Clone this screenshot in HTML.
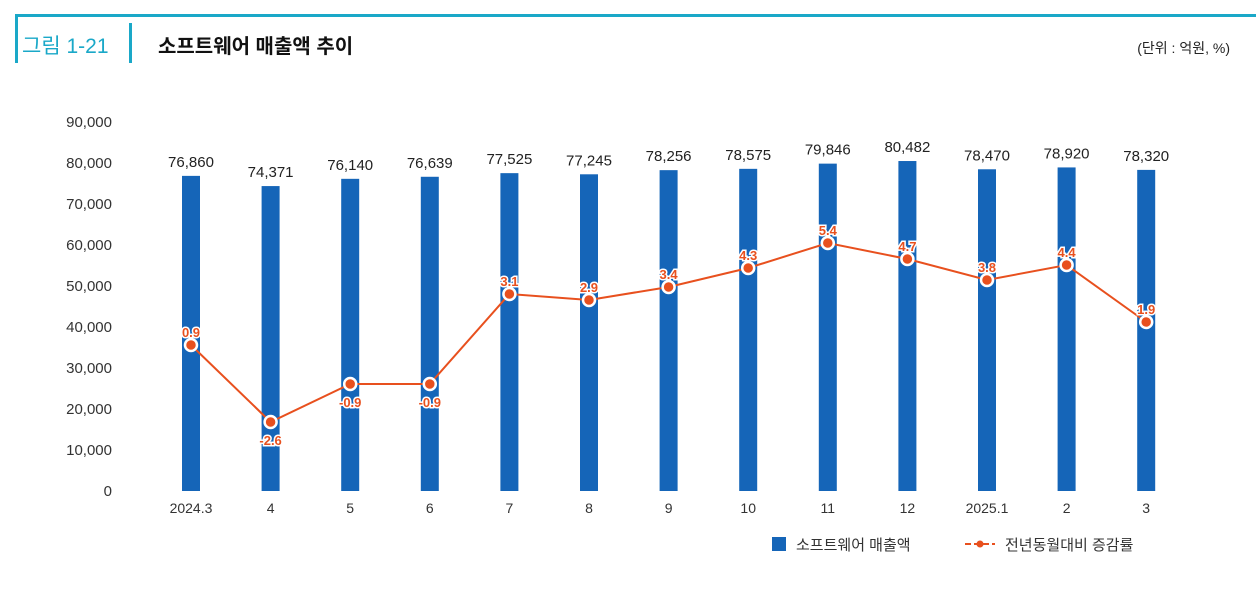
<!DOCTYPE html>
<html><head><meta charset="utf-8"><style>
body{margin:0;background:#fff;width:1256px;height:589px;overflow:hidden;font-family:"Liberation Sans","Noto Sans CJK KR",sans-serif;}
</style></head><body>
<svg width="1256" height="589" xmlns="http://www.w3.org/2000/svg" font-family="Liberation Sans, Noto Sans CJK KR, sans-serif">
<rect x="15" y="14" width="1241" height="3" fill="#1aa8c8"/>
<rect x="15" y="14" width="3" height="49" fill="#1aa8c8"/>
<rect x="129" y="23" width="3" height="40" fill="#1aa8c8"/>
<text x="22" y="53" font-size="21" fill="#1aa8c8">그림 1-21</text>
<text x="158" y="53" font-size="20" font-weight="bold" fill="#111">소프트웨어 매출액 추이</text>
<text x="1230" y="53" font-size="14" fill="#222" text-anchor="end">(단위 : 억원, %)</text>
<g font-size="15" fill="#333" text-anchor="end">
<text x="112" y="127">90,000</text><text x="112" y="168">80,000</text><text x="112" y="209">70,000</text>
<text x="112" y="250">60,000</text><text x="112" y="291">50,000</text><text x="112" y="332">40,000</text>
<text x="112" y="373">30,000</text><text x="112" y="414">20,000</text><text x="112" y="455">10,000</text>
<text x="112" y="496">0</text>
</g>
<g id="bars" fill="#1565b8"></g>
<g id="vals" font-size="15" fill="#222" text-anchor="middle"></g>
<g id="xl" font-size="14" fill="#333" text-anchor="middle"></g>
<polyline id="ln" fill="none" stroke="#e8501e" stroke-width="2"/>
<g id="pts"></g>
<rect x="772" y="537" width="14" height="14" fill="#1565b8"/>
<text x="796" y="550" font-size="15" fill="#333">소프트웨어 매출액</text>
<line x1="965" y1="544" x2="995" y2="544" stroke="#e8501e" stroke-width="2" stroke-dasharray="6,3"/>
<circle cx="980" cy="544" r="3.5" fill="#e8501e"/>
<text x="1005" y="550" font-size="15" fill="#333">전년동월대비 증감률</text>
</svg>
<script>
const v=[76860,74371,76140,76639,77525,77245,78256,78575,79846,80482,78470,78920,78320];
const g=[0.9,-2.6,-0.9,-0.9,3.1,2.9,3.4,4.3,5.4,4.7,3.8,4.4,1.9];
const gy=[345,422,384,384,294,300,287,268,243,259,280,265,322];
const xl=["2024.3","4","5","6","7","8","9","10","11","12","2025.1","2","3"];
const ns="http://www.w3.org/2000/svg";
function el(t,a,p,txt){const e=document.createElementNS(ns,t);for(const k in a)e.setAttribute(k,a[k]);if(txt)e.textContent=txt;document.getElementById(p).appendChild(e);}
let pts=[];
v.forEach((d,i)=>{const cx=191+i*79.6;const top=491-d*0.0041;
el('rect',{x:cx-9,y:top,width:18,height:491-top},'bars');
el('text',{x:cx,y:top-9},'vals',d.toLocaleString('en-US'));
el('text',{x:cx,y:513},'xl',xl[i]);
pts.push(cx+','+gy[i]);
el('circle',{cx:cx,cy:gy[i],r:6,fill:'#e8501e',stroke:'#fff','stroke-width':2.5},'pts');
const ty=g[i]<0?gy[i]+23:gy[i]-8;
el('text',{x:cx,y:ty,'font-size':13,'font-weight':'bold',fill:'#e8501e',stroke:'#fff','stroke-width':3,'paint-order':'stroke','text-anchor':'middle'},'pts',String(g[i]));
});
document.getElementById('ln').setAttribute('points',pts.join(' '));
</script>
</body></html>
